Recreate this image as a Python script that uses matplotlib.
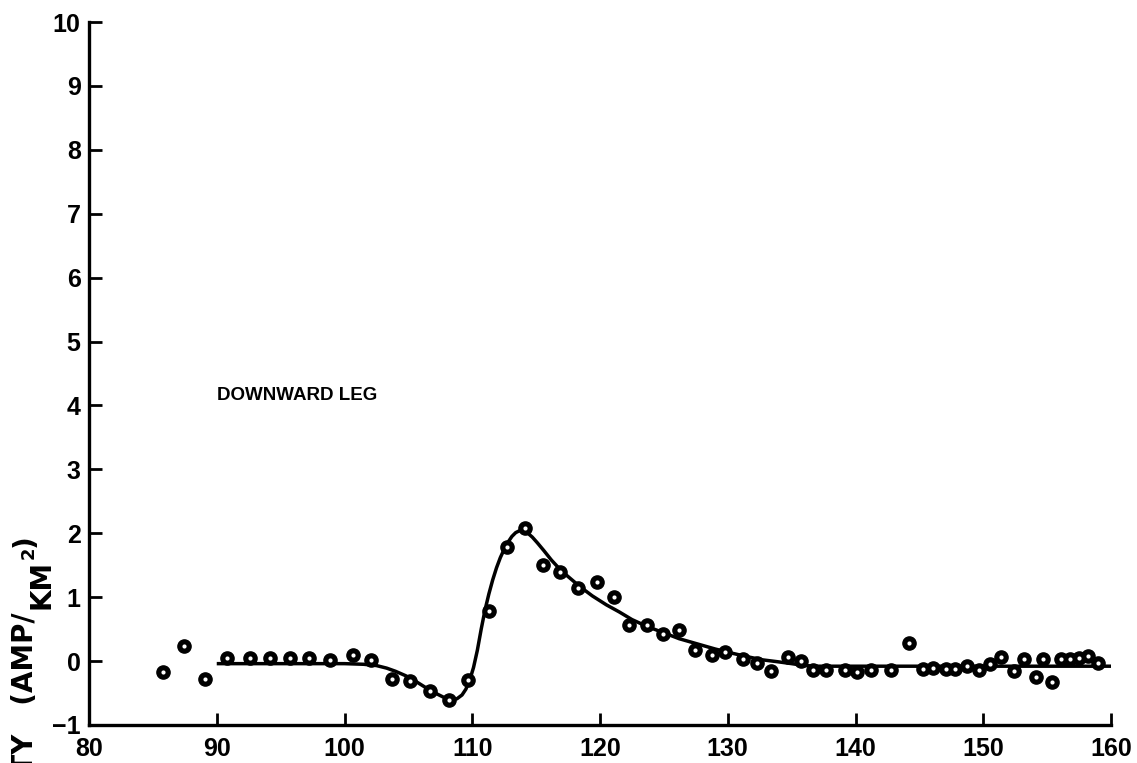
import matplotlib
matplotlib.use("Agg")
import matplotlib.pyplot as plt

# Measured points along the downward leg
dist_pts = [85.8, 87.4, 89.1, 90.8, 92.6, 94.2, 95.7, 97.2, 98.9, 100.7, 102.1,
            103.7, 105.1, 106.7, 108.2, 109.7, 111.3, 112.7, 114.1, 115.5, 116.9,
            118.3, 119.8, 121.1, 122.3, 123.7, 124.9, 126.2, 127.4, 128.8, 129.8,
            131.2, 132.3, 133.4, 134.7, 135.7, 136.7, 137.7, 139.2, 140.1, 141.2,
            142.8, 144.2, 145.3, 146.1, 147.1, 147.8, 148.7, 149.7, 150.5, 151.4,
            152.4, 153.2, 154.1, 154.7, 155.4, 156.1, 156.8, 157.5, 158.2, 159.0]
dens_pts = [-0.17, 0.23, -0.28, 0.05, 0.05, 0.05, 0.05, 0.05, 0.02, 0.09, 0.02,
            -0.28, -0.31, -0.47, -0.61, -0.30, 0.78, 1.78, 2.09, 1.50, 1.40,
            1.14, 1.23, 1.01, 0.56, 0.57, 0.43, 0.49, 0.17, 0.09, 0.15,
            0.03, -0.03, -0.15, 0.06, 0.00, -0.14, -0.14, -0.14, -0.17, -0.14,
            -0.14, 0.28, -0.13, -0.11, -0.12, -0.12, -0.08, -0.14, -0.04, 0.06,
            -0.15, 0.04, -0.25, 0.04, -0.33, 0.03, 0.03, 0.05, 0.08, -0.03]

# Fitted curve
dist_fit = [90.0, 95.0, 100.0, 101.5, 102.5, 103.3, 104.0, 104.8, 105.6, 106.4,
            107.2, 107.8, 108.3, 108.8, 109.2, 109.5, 109.8, 110.1, 110.4, 110.7,
            111.0, 111.3, 111.6, 111.9, 112.2, 112.5, 112.8, 113.1, 113.4, 113.7,
            114.0, 114.3, 114.7, 115.1, 115.6, 116.2, 116.8, 117.4, 118.4, 119.4,
            120.5, 121.5, 122.5, 123.7, 124.9, 126.2, 127.6, 129.0, 130.2, 131.5,
            132.7, 133.9, 135.0, 136.0, 137.0, 160.0]
dens_fit = [-0.04, -0.04, -0.04, -0.05, -0.07, -0.11, -0.16, -0.23, -0.32, -0.42,
            -0.51, -0.57, -0.60, -0.59, -0.53, -0.44, -0.30, -0.10, 0.17, 0.50,
            0.80, 1.05, 1.27, 1.46, 1.62, 1.75, 1.86, 1.95, 2.01, 2.04,
            2.04, 2.01, 1.94, 1.85, 1.73, 1.58, 1.45, 1.34, 1.17, 1.02,
            0.88, 0.77, 0.65, 0.54, 0.45, 0.35, 0.27, 0.19, 0.13, 0.07,
            0.02, -0.01, -0.04, -0.07, -0.08, -0.08]

x_ticks = [80, 90, 100, 110, 120, 130, 140, 150, 160]
y_ticks = [-1, 0, 1, 2, 3, 4, 5, 6, 7, 8, 9, 10]
y_tick_labels = ["\u22121", "0", "1", "2", "3", "4", "5", "6", "7", "8", "9", "10"]

W, H = 1137, 763
fig = plt.figure(figsize=(W / 100, H / 100), dpi=100)
ax = fig.add_axes([89 / W, 1 - 725 / H, (1111 - 89) / W, (725 - 22) / H])

ax.plot(dist_fit, dens_fit, color="black", lw=2.5, solid_capstyle="butt",
        solid_joinstyle="round", zorder=2)
# dark ring markers with a small light centre
ax.plot(dist_pts, dens_pts, linestyle="none", marker="o", markersize=9.5,
        markerfacecolor="black", markeredgecolor="black", markeredgewidth=1.0,
        zorder=3)
ax.plot(dist_pts, dens_pts, linestyle="none", marker="o", markersize=3.0,
        markerfacecolor="white", markeredgecolor="white", markeredgewidth=0,
        zorder=4)

ax.set_xlim(80, 160)
ax.set_ylim(-1, 10)
for side in ("top", "right"):
    ax.spines[side].set_visible(False)
for side in ("left", "bottom"):
    ax.spines[side].set_linewidth(2.4)

tick_font = dict(family="Liberation Sans", weight="bold", size=18)
ax.set_xticks(x_ticks)
ax.set_xticklabels([str(v) for v in x_ticks], fontdict=tick_font)
ax.set_yticks(y_ticks)
ax.set_yticklabels(y_tick_labels, fontdict=tick_font)
ax.tick_params(axis="x", direction="in", length=9, width=2, pad=9)
ax.tick_params(axis="y", direction="in", length=9, width=2, pad=6)

ax.text(90, 4.15, "DOWNWARD LEG", family="Liberation Sans", weight="bold",
        size=13.5, ha="left", va="center")

# Vertical axis title, running off the lower-left corner
lab = dict(family="DejaVu Sans", weight="bold", size=20, rotation=90)
fig.text(25 / W, 1 - 612 / H, "DENSITY   (AMP/", ha="center", va="top", **lab)
fig.text(41 / W, 1 - 584 / H, "KM", ha="center", va="center", **lab)
fig.text(29 / W, 1 - 553 / H, "2", ha="center", va="center",
         family="DejaVu Sans", weight="bold", size=13, rotation=90)
fig.text(25 / W, 1 - 541 / H, ")", ha="center", va="center", **lab)

fig.savefig("out.png", dpi=100)
